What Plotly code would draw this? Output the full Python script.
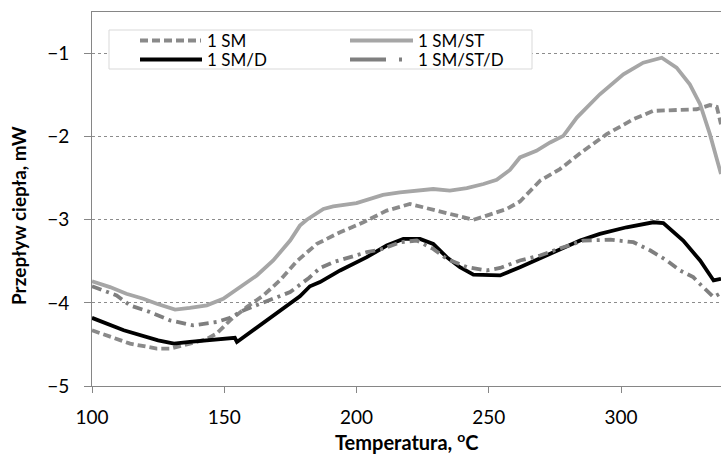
import plotly.graph_objects as go

# ---------------- data ----------------
t_sm = [100, 106.8, 114.4, 124.5, 129.5, 137, 143, 147.1, 152.2, 158.5, 164.8, 171, 177.4, 185,
        193.8, 202.6, 211.4, 220.2, 226.5, 235.3, 244.2, 249.2, 256.8, 261.8, 269.4, 276.9, 285.8,
        294.6, 304.7, 312.2, 322.3, 328.6, 333.6, 336.2, 337.8]
v_sm = [-4.33, -4.41, -4.49, -4.55, -4.55, -4.49, -4.44, -4.37, -4.21, -4.05, -3.91, -3.73, -3.5, -3.29,
        -3.15, -3.03, -2.89, -2.81, -2.86, -2.93, -3.0, -2.95, -2.87, -2.78, -2.53, -2.39, -2.17,
        -1.97, -1.79, -1.69, -1.68, -1.67, -1.62, -1.64, -1.85]

t_smst = [100, 106.8, 113, 119.4, 124.5, 131.4, 137, 143.4, 149.6, 156, 162.3, 168.5, 174.9, 178.6,
          181.2, 187.5, 191.2, 200, 203.9, 210, 216.4, 229, 235.3, 241.7, 248, 253, 258, 261.8, 268,
          273.2, 278.2, 283.3, 292, 300.9, 308.4, 315.4, 321, 326, 329.9, 333.6, 337.8]
v_smst = [-3.74, -3.81, -3.89, -3.95, -4.01, -4.08, -4.06, -4.03, -3.95, -3.81, -3.67, -3.49, -3.25, -3.07,
          -3.0, -2.87, -2.84, -2.80, -2.76, -2.70, -2.67, -2.63, -2.65, -2.62, -2.57, -2.52, -2.40, -2.25, -2.17,
          -2.07, -1.99, -1.77, -1.49, -1.25, -1.11, -1.05, -1.17, -1.37, -1.61, -1.97, -2.45]

t_smd = [100, 103, 112, 125, 131, 137, 143.4, 150, 154, 154.8, 162.4, 172.2, 178.6, 182.4, 186.2, 193.8,
         203.9, 211.4, 217.7, 224, 229, 234.1, 239.1, 244.2, 249.2, 254.3, 261.8, 271.9, 284.5, 292,
         302.1, 312.2, 316, 323.5, 329.9, 335, 337.8]
v_smd = [-4.18, -4.22, -4.33, -4.45, -4.49, -4.47, -4.45, -4.43, -4.42, -4.47, -4.29, -4.06, -3.92, -3.80, -3.75, -3.61,
         -3.45, -3.31, -3.23, -3.23, -3.29, -3.45, -3.57, -3.66, -3.67, -3.67, -3.57, -3.43, -3.25, -3.17,
         -3.09, -3.03, -3.04, -3.25, -3.49, -3.73, -3.71]

t_smstd = [100, 109.3, 114.4, 121.9, 129.5, 138.2, 147.1, 152.2, 157.2, 167.3, 174.9, 182.0, 186.2, 191.2,
           197.5, 203.9, 210.1, 216.4, 222.8, 229, 234.1, 241.7, 249.2, 254.3, 261.8, 269.4, 278.2, 285.8,
           296, 304.7, 311.1, 317.3, 322.3, 327.3, 331, 335, 337.8]
v_smstd = [-3.80, -3.91, -4.03, -4.11, -4.21, -4.27, -4.23, -4.18, -4.09, -3.97, -3.87, -3.70, -3.58, -3.51,
           -3.45, -3.39, -3.35, -3.27, -3.25, -3.35, -3.47, -3.57, -3.61, -3.58, -3.49, -3.43, -3.33, -3.25,
           -3.24, -3.27, -3.37, -3.49, -3.61, -3.69, -3.81, -3.93, -3.88]

names = ["1 SM", "1 SM/ST", "1 SM/D", "1 SM/ST/D"]
x_ticks = [100, 150, 200, 250, 300]
y_ticks = [-5, -4, -3, -2, -1]

# ---------------- styles ----------------
C_SM, C_SMST, C_SMD, C_SMSTD = "#8a8a8a", "#a6a6a6", "#000000", "#7f7f7f"
D_SM, D_SMSTD = "8px,4px", "10px,5px,3px,5px"
FONT = "Lato"
LW = 3.8

W, H = 721, 464
L, R, T, B = 92, 0, 12, 78
PW, PH = W - L - R, H - T - B


def px(x):
    return (x - L) / PW


def py(y):
    return (H - B - y) / PH


fig = go.Figure()
fig.add_trace(go.Scatter(x=t_sm, y=v_sm, mode="lines", name=names[0],
                         line=dict(color=C_SM, width=LW, dash=D_SM)))
fig.add_trace(go.Scatter(x=t_smst, y=v_smst, mode="lines", name=names[1],
                         line=dict(color=C_SMST, width=LW)))
fig.add_trace(go.Scatter(x=t_smd, y=v_smd, mode="lines", name=names[2],
                         line=dict(color=C_SMD, width=LW)))
fig.add_trace(go.Scatter(x=t_smstd, y=v_smstd, mode="lines", name=names[3],
                         line=dict(color=C_SMSTD, width=LW, dash=D_SMSTD)))

axis_col = "#868686"
fig.update_layout(
    width=W, height=H, margin=dict(l=L, r=R, t=T, b=B),
    paper_bgcolor="white", plot_bgcolor="white", showlegend=False,
    font=dict(family=FONT, size=16, color="black"),
    xaxis=dict(range=[100, 337.8], tickvals=x_ticks, showline=True, linecolor=axis_col, linewidth=1,
               mirror=True, ticks="outside", ticklen=6, tickcolor=axis_col, showgrid=False,
               zeroline=False, ticklabelstandoff=8, tickfont=dict(family=FONT, size=19, color="black")),
    yaxis=dict(range=[-5, -0.5], tickvals=y_ticks, showline=True, linecolor=axis_col, linewidth=1,
               ticks="outside", ticklen=7, tickcolor=axis_col, showgrid=True, gridcolor="#8c8c8c",
               griddash="dot", gridwidth=1, zeroline=False, ticklabelstandoff=11,
               tickfont=dict(family=FONT, size=19, color="black")),
)

# axis titles
fig.add_annotation(x=0.5, y=py(441), xref="paper", yref="paper", text="<b>Temperatura, <sup>o</sup>C</b>",
                   showarrow=False, xanchor="center", yanchor="middle", font=dict(family=FONT, size=20))
fig.add_annotation(x=px(19), y=py(216), xref="paper", yref="paper", text="<b>Przepływ ciepła, mW</b>",
                   textangle=-90, showarrow=False, xanchor="center", yanchor="middle",
                   font=dict(family=FONT, size=19))

# legend box
shapes = [dict(type="rect", xref="paper", yref="paper", x0=px(109), x1=px(532), y0=py(69), y1=py(30),
               line=dict(color="#d9d9d9", width=1), fillcolor="white", layer="above")]
rows = [(C_SM, D_SM, 140, 201, 40.5), (C_SMST, "solid", 350, 413, 40.5),
        (C_SMD, "solid", 140, 202, 59.5), (C_SMSTD, "36px,13px,3px,13px", 350, 402, 59.5)]
for col, dash, x0, x1, yy in rows:
    shapes.append(dict(type="line", xref="paper", yref="paper", x0=px(x0), x1=px(x1), y0=py(yy), y1=py(yy),
                       line=dict(color=col, width=4, dash=dash), layer="above"))
fig.update_layout(shapes=shapes)
for name, x0, yy in [(names[0], 205, 40.5), (names[1], 416, 40.5), (names[2], 205, 59.5), (names[3], 416, 59.5)]:
    fig.add_annotation(x=px(x0), y=py(yy), xref="paper", yref="paper", text=name, showarrow=False,
                       xanchor="left", yanchor="middle", font=dict(family=FONT, size=17, color="black"))

fig.write_html("out.html")
